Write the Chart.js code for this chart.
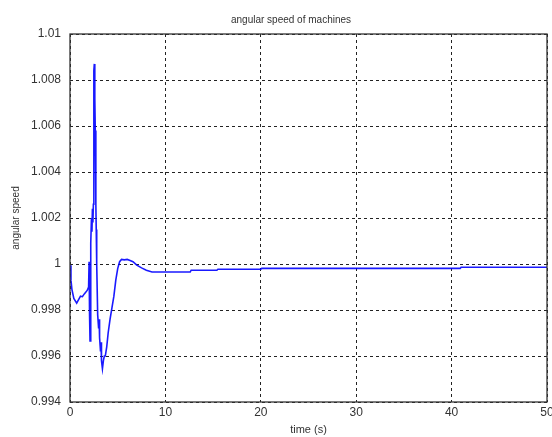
<!DOCTYPE html>
<html lang="en">
<head>
  <meta charset="UTF-8">
  <title>angular speed of machines</title>
  <script src="https://cdn.jsdelivr.net/npm/chart.js"></script>
  <style>
    body { margin: 0; background: #fff; }
  </style>
</head>
<body>
  <canvas id="speedChart" width="552" height="437"></canvas>

  <script>
    const times = [0, 0.1, 0.2, 0.4, 0.7, 0.9, 1.1, 1.3, 1.5, 1.8, 1.95, 2.0, 2.05, 2.1, 2.15, 2.2, 2.25, 2.3, 2.35, 2.4, 2.45, 2.5, 2.55, 2.6, 2.65, 2.7, 2.72, 2.75, 2.8, 2.9, 3.0, 3.05, 3.1, 3.2, 3.25, 3.3, 3.4, 3.5, 3.6, 3.7, 3.85, 4.0, 4.2, 4.4, 4.6, 4.8, 5.0, 5.2, 5.4, 5.7, 6.0, 6.3, 6.6, 7.0, 7.5, 8.0, 8.6, 12.6, 12.7, 15.4, 15.5, 20, 20.1, 40.9, 41, 50];
    const speeds = [0.99995, 0.9993, 0.9989, 0.9985, 0.9983, 0.99845, 0.9986, 0.99858, 0.9987, 0.99885, 0.9990, 1.0001, 0.9978, 0.99665, 0.9988, 1.0009, 1.0020, 1.0014, 1.0024, 1.0018, 1.0026, 1.0084, 1.0087, 1.0072, 1.0058, 1.0058, 1.0026, 1.0015, 1.0000, 0.9978, 0.9972, 0.9976, 0.9968, 0.9962, 0.9966, 0.9958, 0.99545, 0.9958, 0.9960, 0.9960, 0.9964, 0.9970, 0.9976, 0.9981, 0.9986, 0.9993, 0.9998, 1.0001, 1.0002, 1.00018, 1.0002, 1.00015, 1.0001, 0.99995, 0.99983, 0.99973, 0.99965, 0.99965, 0.99973, 0.99973, 0.99977, 0.99977, 0.99981, 0.99981, 0.99986, 0.99986];
    const chartTitle = 'angular speed of machines';
    const xLabel = 'time (s)';
    const yLabel = 'angular speed';

    const points = times.map((t, i) => ({ x: t, y: speeds[i] }));

    // matlab style: full box round the axes and a title over it
    const boxPlugin = {
      id: 'box',
      afterDraw(chart) {
        const { ctx, chartArea: a } = chart;
        ctx.save();
        ctx.strokeStyle = '#333';
        ctx.lineWidth = 1.3;
        ctx.strokeRect(a.left, a.top, a.right - a.left, a.bottom - a.top);
        ctx.fillStyle = '#333';
        ctx.font = '10px "Liberation Sans", Arial, sans-serif';
        ctx.textAlign = 'center';
        ctx.textBaseline = 'middle';
        ctx.fillText(chartTitle, 291, 20);
        ctx.restore();
      }
    };

    const tickFont = { family: '"Liberation Sans", Arial, sans-serif', size: 12 };

    new Chart(document.getElementById('speedChart'), {
      type: 'scatter',
      data: {
        datasets: [{
          data: points,
          showLine: true,
          borderColor: 'rgba(0, 0, 255, 0.9)',
          borderWidth: 1.6,
          pointRadius: 0,
          tension: 0,
        }]
      },
      options: {
        responsive: false,
        animation: false,
        layout: { autoPadding: false, padding: { top: 34, right: 5, left: 10, bottom: 0 } },
        scales: {
          x: {
            type: 'linear',
            min: 0,
            max: 50,
            ticks: { stepSize: 10, color: '#333', font: tickFont, padding: 3 },
            grid: { color: '#222', lineWidth: 1, drawTicks: false },
            border: { display: false, dash: [3, 3] },
            title: { display: true, text: xLabel, color: '#333', font: { family: tickFont.family, size: 11 }, padding: 0 },
            afterFit(scale) { scale.height = 35; scale.paddingLeft = 0; scale.paddingRight = 0; }
          },
          y: {
            type: 'linear',
            min: 0.994,
            max: 1.01,
            ticks: {
              stepSize: 0.002,
              color: '#333',
              font: tickFont,
              padding: 9,
              callback: v => String(Number(v.toFixed(3)))
            },
            grid: { color: '#222', lineWidth: 1, drawTicks: false },
            border: { display: false, dash: [3, 3] },
            title: { display: true, text: yLabel, color: '#333', font: { family: tickFont.family, size: 10 }, padding: 0 },
            afterFit(scale) { scale.width = 60; }
          }
        },
        plugins: {
          legend: { display: false },
          tooltip: { enabled: false }
        }
      },
      plugins: [boxPlugin]
    });
  </script>
</body>
</html>
